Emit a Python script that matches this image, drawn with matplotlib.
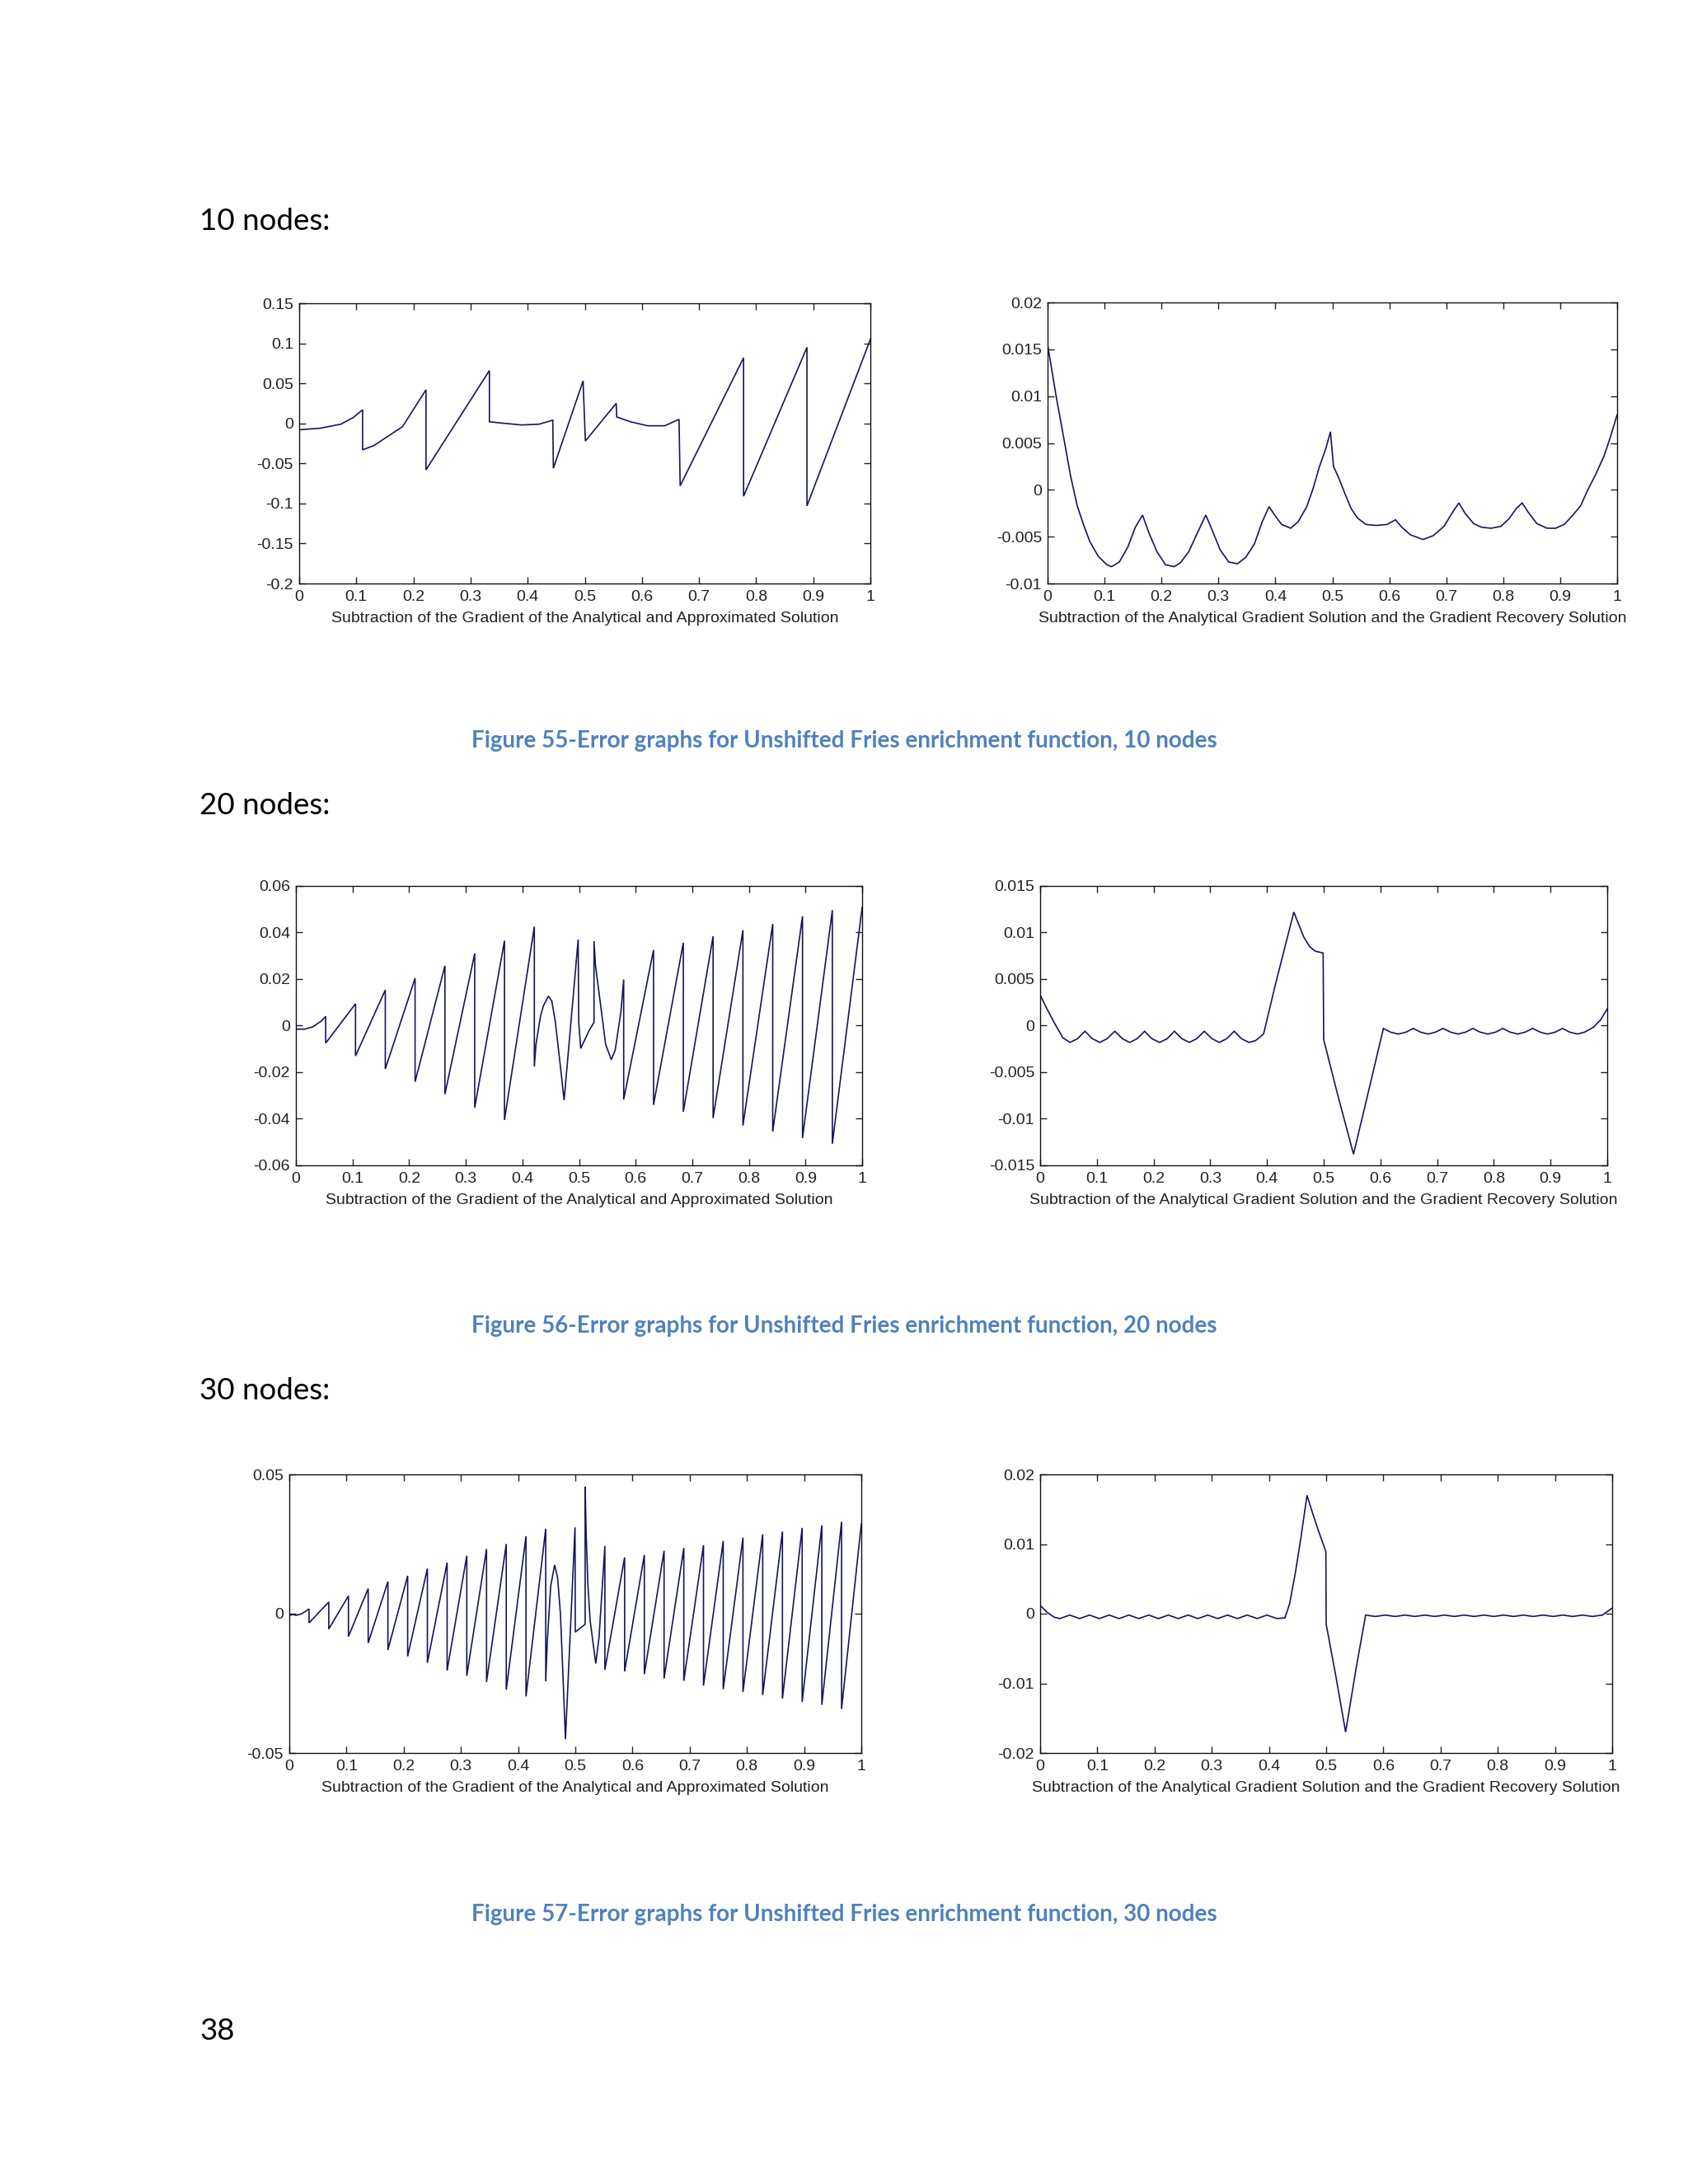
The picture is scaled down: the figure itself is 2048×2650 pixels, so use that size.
import matplotlib
matplotlib.use("Agg")
import matplotlib.pyplot as plt
from matplotlib.ticker import FixedLocator, FixedFormatter

# ---------------- data ----------------
XTICKS = [0, 0.1, 0.2, 0.3, 0.4, 0.5, 0.6, 0.7, 0.8, 0.9, 1.0]
XTICK_LABELS = ["0", "0.1", "0.2", "0.3", "0.4", "0.5", "0.6", "0.7", "0.8", "0.9", "1"]

XLABEL_LEFT = "Subtraction of the Gradient of the Analytical and Approximated Solution"
XLABEL_RIGHT = "Subtraction of the Analytical Gradient Solution and the Gradient Recovery Solution"

HEADINGS = ["10 nodes:", "20 nodes:", "30 nodes:"]
CAPTIONS = ["Figure 55-Error graphs for Unshifted Fries enrichment function, 10 nodes",
            "Figure 56-Error graphs for Unshifted Fries enrichment function, 20 nodes",
            "Figure 57-Error graphs for Unshifted Fries enrichment function, 30 nodes"]
PAGE_NUMBER = "38"

# 10 nodes, left
p1_yticks = [-0.2, -0.15, -0.1, -0.05, 0, 0.05, 0.1, 0.15]
p1_ylabels = ["-0.2", "-0.15", "-0.1", "-0.05", "0", "0.05", "0.1", "0.15"]
p1_x = [0, 0.037, 0.073, 0.095, 0.111, 0.111, 0.13, 0.145, 0.181, 0.222, 0.222, 0.333, 0.333,
        0.36, 0.39, 0.42, 0.444, 0.445, 0.497, 0.501, 0.555, 0.556, 0.58, 0.61, 0.64, 0.665,
        0.667, 0.778, 0.778, 0.889, 0.889, 1.0]
p1_y = [-0.008, -0.006, -0.001, 0.0075, 0.017, -0.033, -0.028, -0.021, -0.004, 0.042, -0.058,
        0.066, 0.002, 0.0, -0.002, -0.001, 0.004, -0.056, 0.053, -0.022, 0.025, 0.008, 0.002,
        -0.003, -0.003, 0.005, -0.078, 0.082, -0.091, 0.095, -0.103, 0.105]

# 10 nodes, right
p2_yticks = [-0.01, -0.005, 0, 0.005, 0.01, 0.015, 0.02]
p2_ylabels = ["-0.01", "-0.005", "0", "0.005", "0.01", "0.015", "0.02"]
p2_x = [0, 0.015, 0.03, 0.04, 0.052, 0.063, 0.074, 0.089, 0.104, 0.1125, 0.126, 0.141, 0.154,
        0.1667, 0.178, 0.192, 0.207, 0.2222, 0.233, 0.248, 0.263, 0.2778, 0.289, 0.303, 0.318,
        0.3333, 0.348, 0.363, 0.377, 0.3889, 0.4, 0.411, 0.427, 0.44, 0.455, 0.466, 0.477,
        0.489, 0.4967, 0.502, 0.511, 0.522, 0.533, 0.544, 0.559, 0.577, 0.596, 0.611, 0.622,
        0.637, 0.659, 0.677, 0.696, 0.711, 0.7222, 0.733, 0.748, 0.762, 0.779, 0.796, 0.81,
        0.823, 0.8333, 0.844, 0.859, 0.877, 0.892, 0.907, 0.921, 0.936, 0.947, 0.962, 0.977,
        0.988, 1.0]
p2_y = [0.0155, 0.010, 0.005, 0.0016, -0.0017, -0.0037, -0.0055, -0.0071, -0.008, -0.0082,
        -0.0077, -0.0061, -0.004, -0.0027, -0.0046, -0.0066, -0.008, -0.0082, -0.0078, -0.0066,
        -0.0046, -0.0027, -0.0043, -0.0064, -0.0077, -0.0079, -0.0072, -0.0058, -0.0034,
        -0.0018, -0.0028, -0.0037, -0.0041, -0.0034, -0.0018, 0.0001, 0.0024, 0.0045, 0.0062,
        0.0025, 0.0013, -0.0004, -0.002, -0.003, -0.0037, -0.0038, -0.0037, -0.0032, -0.004,
        -0.0048, -0.0053, -0.0049, -0.0039, -0.0024, -0.0014, -0.0025, -0.0036, -0.004,
        -0.0041, -0.0039, -0.0031, -0.002, -0.0014, -0.0024, -0.0036, -0.0041, -0.0041,
        -0.0037, -0.0028, -0.0017, -0.0002, 0.0016, 0.0036, 0.0056, 0.008]

# 20 nodes, left
p3_yticks = [-0.06, -0.04, -0.02, 0, 0.02, 0.04, 0.06]
p3_ylabels = ["-0.06", "-0.04", "-0.02", "0", "0.02", "0.04", "0.06"]
p3_x = [0, 0.015, 0.03, 0.045, 0.0526, 0.0526, 0.1053, 0.1053, 0.1579, 0.1579, 0.2105, 0.2105,
        0.2632, 0.2632, 0.3158, 0.3158, 0.3684, 0.3684, 0.4211, 0.4211, 0.424, 0.432, 0.437,
        0.446, 0.452, 0.458, 0.466, 0.4737, 0.4985, 0.4995, 0.503, 0.518, 0.5265, 0.5265,
        0.529, 0.537, 0.547, 0.557, 0.564, 0.574, 0.5789, 0.5789, 0.6316, 0.6316, 0.6842,
        0.6842, 0.7368, 0.7368, 0.7895, 0.7895, 0.8421, 0.8421, 0.8947, 0.8947, 0.9474,
        0.9474, 1.0]
p3_y = [-0.0015, -0.0015, -0.0005, 0.002, 0.004, -0.0075, 0.0094, -0.013, 0.0153, -0.0186,
        0.0204, -0.0241, 0.0257, -0.0294, 0.031, -0.0352, 0.0365, -0.0405, 0.0425, -0.0175,
        -0.008, 0.004, 0.0085, 0.0127, 0.0105, 0.002, -0.015, -0.032, 0.037, 0.0015, -0.0098,
        -0.002, 0.0014, 0.0363, 0.026, 0.011, -0.008, -0.0146, -0.0104, 0.006, 0.0198,
        -0.0317, 0.0325, -0.034, 0.0356, -0.037, 0.0384, -0.0397, 0.041, -0.0429, 0.0437,
        -0.0455, 0.047, -0.0483, 0.0496, -0.0507, 0.0508]

# 20 nodes, right
p4_yticks = [-0.015, -0.01, -0.005, 0, 0.005, 0.01, 0.015]
p4_ylabels = ["-0.015", "-0.01", "-0.005", "0", "0.005", "0.01", "0.015"]
p4_x = [0, 0.012, 0.025, 0.04, 0.0526, 0.066, 0.079, 0.092, 0.1053, 0.118, 0.1316, 0.145,
        0.1579, 0.171, 0.1842, 0.197, 0.2105, 0.224, 0.2368, 0.25, 0.2632, 0.276, 0.2895,
        0.303, 0.3158, 0.329, 0.3421, 0.355, 0.3684, 0.38, 0.394, 0.401, 0.416, 0.431, 0.4474,
        0.455, 0.465, 0.475, 0.485, 0.499, 0.5, 0.525, 0.5526, 0.58, 0.6053, 0.618, 0.6316,
        0.645, 0.6579, 0.671, 0.6842, 0.697, 0.7105, 0.724, 0.7368, 0.75, 0.7632, 0.776,
        0.7895, 0.803, 0.8158, 0.829, 0.8421, 0.855, 0.8684, 0.882, 0.8947, 0.908, 0.9211,
        0.934, 0.9474, 0.96, 0.975, 0.988, 1.0]
p4_y = [0.0033, 0.0018, 0.0003, -0.0013, -0.0018, -0.0014, -0.0006, -0.0014, -0.0018, -0.0014,
        -0.0006, -0.0014, -0.0018, -0.0014, -0.0006, -0.0014, -0.0018, -0.0014, -0.0006,
        -0.0014, -0.0018, -0.0014, -0.0006, -0.0014, -0.0018, -0.0014, -0.0006, -0.0014,
        -0.0018, -0.0016, -0.0009, 0.0009, 0.0047, 0.0083, 0.0122, 0.011, 0.0095, 0.0085,
        0.008, 0.0078, -0.0015, -0.0075, -0.0138, -0.0068, -0.0003, -0.0007, -0.0009, -0.0007,
        -0.0003, -0.0007, -0.0009, -0.0007, -0.0003, -0.0007, -0.0009, -0.0007, -0.0003,
        -0.0007, -0.0009, -0.0007, -0.0003, -0.0007, -0.0009, -0.0007, -0.0003, -0.0007,
        -0.0009, -0.0007, -0.0003, -0.0007, -0.0009, -0.0007, -0.0002, 0.0006, 0.0018]

# 30 nodes, left
p5_yticks = [-0.05, 0, 0.05]
p5_ylabels = ["-0.05", "0", "0.05"]
p5_x = [0, 0.006, 0.012, 0.022, 0.0345, 0.0345, 0.069, 0.069, 0.1034, 0.1034, 0.1379, 0.1379,
        0.1724, 0.1724, 0.2069, 0.2069, 0.2414, 0.2414, 0.2759, 0.2759, 0.3103, 0.3103,
        0.3448, 0.3448, 0.3793, 0.3793, 0.4138, 0.4138, 0.4483, 0.4483, 0.451, 0.457, 0.4639,
        0.469, 0.474, 0.478, 0.4828, 0.4995, 0.5, 0.5172, 0.5172, 0.519, 0.522, 0.526, 0.5358,
        0.5415, 0.5517, 0.5517, 0.5862, 0.5862, 0.6207, 0.6207, 0.6552, 0.6552, 0.6897,
        0.6897, 0.7241, 0.7241, 0.7586, 0.7586, 0.7931, 0.7931, 0.8276, 0.8276, 0.8621,
        0.8621, 0.8966, 0.8966, 0.931, 0.931, 0.9655, 0.9655, 1.0]
p5_y = [-0.0006, -0.0003, -0.0006, 0.0, 0.0017, -0.0033, 0.0042, -0.0055, 0.0064, -0.0082,
        0.009, -0.0105, 0.0115, -0.013, 0.0136, -0.0153, 0.0162, -0.0176, 0.0183, -0.0204,
        0.0208, -0.0223, 0.0232, -0.0245, 0.025, -0.0273, 0.0278, -0.0297, 0.0305, -0.0243,
        -0.01, 0.01, 0.0175, 0.013, 0.0, -0.02, -0.045, 0.031, -0.0066, -0.0038, 0.0456,
        0.0285, 0.0104, -0.0026, -0.0179, -0.0085, 0.0243, -0.0201, 0.0202, -0.0207, 0.0211,
        -0.0217, 0.0226, -0.0233, 0.0236, -0.0241, 0.0246, -0.0258, 0.0261, -0.0271, 0.0273,
        -0.0281, 0.0285, -0.0292, 0.0295, -0.0305, 0.0308, -0.0317, 0.0317, -0.0327, 0.033,
        -0.0342, 0.0322]

# 30 nodes, right
p6_yticks = [-0.02, -0.01, 0, 0.01, 0.02]
p6_ylabels = ["-0.02", "-0.01", "0", "0.01", "0.02"]
p6_x = [0, 0.012, 0.0245, 0.0345, 0.0517, 0.069, 0.0862, 0.1034, 0.1207, 0.1379, 0.1552,
        0.1724, 0.1897, 0.2069, 0.2241, 0.2414, 0.2586, 0.2759, 0.2931, 0.3103, 0.3276,
        0.3448, 0.3621, 0.3793, 0.3966, 0.4138, 0.428, 0.436, 0.446, 0.456, 0.4665, 0.476,
        0.487, 0.4995, 0.5, 0.517, 0.534, 0.552, 0.569, 0.5862, 0.6034, 0.6207, 0.6379,
        0.6552, 0.6724, 0.6897, 0.7069, 0.7241, 0.7414, 0.7586, 0.7759, 0.7931, 0.8103,
        0.8276, 0.8448, 0.8621, 0.8793, 0.8966, 0.9138, 0.931, 0.9483, 0.9655, 0.9828, 1.0]
p6_y = [0.0012, 0.0002, -0.0005, -0.0007, -0.0002, -0.0007, -0.0002, -0.0007, -0.0002, -0.0007,
        -0.0002, -0.0007, -0.0002, -0.0007, -0.0002, -0.0007, -0.0002, -0.0007, -0.0002,
        -0.0007, -0.0002, -0.0007, -0.0002, -0.0007, -0.0002, -0.0007, -0.0006, 0.0014,
        0.0058, 0.011, 0.017, 0.0145, 0.0118, 0.0089, -0.0015, -0.009, -0.017, -0.008,
        -0.0002, -0.0004, -0.0002, -0.0004, -0.0002, -0.0004, -0.0002, -0.0004, -0.0002,
        -0.0004, -0.0002, -0.0004, -0.0002, -0.0004, -0.0002, -0.0004, -0.0002, -0.0004,
        -0.0002, -0.0004, -0.0002, -0.0004, -0.0002, -0.0004, -0.0002, 0.0008]

# ---------------- drawing ----------------
W, H = 2048, 2650
LINE = "#16165c"
CAPTION_COLOR = "#4f81bd"
TICK_FONT = ["Liberation Sans", "DejaVu Sans"]
BODY_FONT = ["Lato", "DejaVu Sans"]
TICK_SIZE = 14

fig = plt.figure(figsize=(W / 100, H / 100), dpi=100)
fig.patch.set_facecolor("white")


def rect(x0, y0, x1, y1):
    return [x0 / W, 1 - y1 / H, (x1 - x0) / W, (y1 - y0) / H]


def panel(box, xs, ys, yticks, ylabels, xlabel):
    ax = fig.add_axes(rect(*box))
    ax.plot(xs, ys, color=LINE, lw=1.2, solid_joinstyle="miter")
    ax.set_xlim(0, 1)
    ax.set_ylim(yticks[0], yticks[-1])
    ax.xaxis.set_major_locator(FixedLocator(XTICKS))
    ax.xaxis.set_major_formatter(FixedFormatter(XTICK_LABELS))
    ax.yaxis.set_major_locator(FixedLocator(yticks))
    ax.yaxis.set_major_formatter(FixedFormatter(ylabels))
    ax.tick_params(direction="in", length=6, width=1.0, top=True, right=True,
                   labelsize=TICK_SIZE, colors="#222222")
    ax.tick_params(axis="x", pad=6)
    ax.tick_params(axis="y", pad=5)
    for lab in ax.get_xticklabels() + ax.get_yticklabels():
        lab.set_family(TICK_FONT)
    for s in ax.spines.values():
        s.set_linewidth(1.0)
        s.set_color("#111111")
    ax.set_xlabel(xlabel, fontsize=TICK_SIZE, family=TICK_FONT, labelpad=6, color="#222222")
    return ax


panel((363, 368, 1056, 708), p1_x, p1_y, p1_yticks, p1_ylabels, XLABEL_LEFT)
panel((1271, 367, 1962, 708), p2_x, p2_y, p2_yticks, p2_ylabels, XLABEL_RIGHT)
panel((359, 1075, 1046, 1414), p3_x, p3_y, p3_yticks, p3_ylabels, XLABEL_LEFT)
panel((1262, 1075, 1950, 1414), p4_x, p4_y, p4_yticks, p4_ylabels, XLABEL_RIGHT)
panel((351, 1789, 1045, 2127), p5_x, p5_y, p5_yticks, p5_ylabels, XLABEL_LEFT)
panel((1262, 1789, 1956, 2127), p6_x, p6_y, p6_yticks, p6_ylabels, XLABEL_RIGHT)

heading_baselines = [279, 988, 1698]
for txt, yb in zip(HEADINGS, heading_baselines):
    fig.text(242 / W, 1 - yb / H, txt, fontsize=26.5, family=BODY_FONT,
             ha="left", va="baseline", color="black")

caption_centers = [899, 1609, 2323]
for txt, yc in zip(CAPTIONS, caption_centers):
    fig.text(1024 / W, 1 - yc / H, txt, fontsize=20, family=BODY_FONT, weight="bold",
             ha="center", va="center", color=CAPTION_COLOR)

fig.text(242 / W, 1 - 2475 / H, PAGE_NUMBER, fontsize=26.5, family=BODY_FONT,
         ha="left", va="baseline", color="black")

fig.savefig("out.png", dpi=100, facecolor="white")
